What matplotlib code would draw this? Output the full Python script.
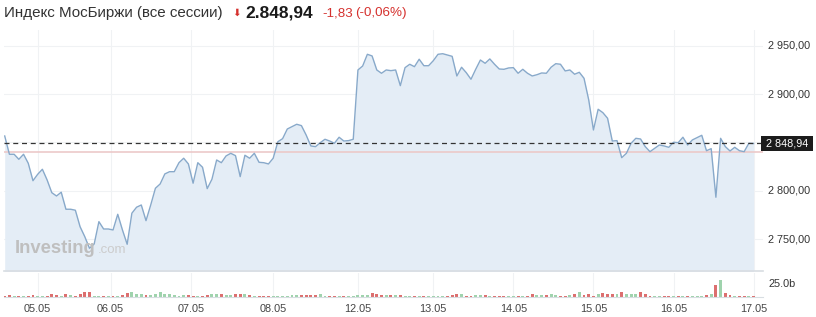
import matplotlib.pyplot as plt
import numpy as np

# hourly closes, index 0..159
prices = [
    2856.7, 2837.8, 2837.8, 2832.6, 2837.8, 2828.5, 2810.5, 2817.1, 2822.3, 2811.3,
    2798.1, 2794.7, 2798.6, 2781.0, 2781.0, 2780.0, 2763.0, 2752.7, 2740.7, 2745.1,
    2768.2, 2760.6, 2760.6, 2759.6, 2775.8, 2759.6, 2744.8, 2776.9, 2783.1, 2785.4,
    2769.2, 2785.4, 2802.7, 2807.1, 2817.5, 2819.8, 2819.8, 2829.1, 2833.7, 2827.8,
    2807.9, 2829.1, 2824.4, 2802.3, 2812.0, 2831.9, 2829.1, 2836.1, 2838.8, 2836.4,
    2814.7, 2836.8, 2833.7, 2838.8, 2829.5, 2829.1, 2827.8, 2833.7, 2850.8, 2853.9,
    2863.9, 2866.3, 2868.8, 2867.4, 2857.7, 2846.4, 2845.7, 2849.8, 2853.3, 2851.5,
    2849.2, 2855.4, 2851.5, 2851.9, 2853.3, 2924.9, 2929.0, 2941.1, 2939.4, 2924.9,
    2921.5, 2924.9, 2924.2, 2924.9, 2908.7, 2927.3, 2930.8, 2928.3, 2936.0, 2929.3,
    2929.3, 2934.5, 2941.1, 2941.7, 2940.4, 2939.0, 2918.7, 2927.7, 2922.1, 2915.3,
    2925.6, 2935.2, 2931.8, 2936.3, 2930.8, 2925.9, 2925.6, 2927.0, 2927.3, 2921.5,
    2925.6, 2921.5, 2918.7, 2920.0, 2921.8, 2921.5, 2927.7, 2931.4, 2930.8, 2923.9,
    2924.9, 2920.5, 2922.5, 2916.3, 2893.9, 2862.9, 2884.3, 2880.8, 2875.0, 2851.5,
    2851.9, 2834.3, 2838.8, 2849.2, 2854.3, 2853.6, 2845.7, 2840.5, 2844.0, 2847.4,
    2846.4, 2845.0, 2850.2, 2849.8, 2855.4, 2847.4, 2852.6, 2855.0, 2857.4, 2841.5,
    2843.6, 2793.4, 2854.3, 2845.7, 2841.2, 2845.0, 2841.5, 2840.5, 2849.2, 2848.94,
]

# volume, billions
volume = [
    2, 4, 2, 2, 2, 2, 4, 2, 2, 2,
    6, 4, 2, 6, 4, 2, 6, 10, 10, 2,
    2, 2, 2, 2, 2, 4, 8, 10, 6, 6,
    4, 4, 6, 10, 6, 6, 4, 2, 4, 4,
    2, 2, 2, 4, 6, 5, 5, 4, 4, 6,
    6, 6, 4, 2, 2, 2, 2, 2, 2, 2,
    2, 4, 3, 3, 3, 3, 4, 6, 2, 2,
    2, 2, 2, 2, 2, 4, 4, 4, 8, 6,
    4, 4, 3, 4, 4, 2, 2, 2, 2, 2,
    2, 2, 2, 2, 2, 4, 6, 6, 2, 2,
    4, 4, 4, 2, 2, 2, 2, 2, 2, 2,
    2, 2, 6, 3, 3, 4, 6, 4, 2, 2,
    4, 6, 10, 4, 6, 2, 6, 8, 6, 6,
    6, 10, 6, 6, 6, 10, 6, 2, 2, 2,
    2, 2, 2, 2, 2, 2, 2, 2, 2, 4,
    6, 23, 32, 8, 4, 2, 2, 2, 2, 2,
]

day_labels = ["05.05", "06.05", "07.05", "08.05", "12.05", "13.05", "14.05", "15.05", "16.05", "17.05"]
day_index = [7, 22.5, 39.5, 57, 75, 91, 108, 125, 142, 159]
price_ticks = [2750, 2800, 2900, 2950]
last_price = 2848.94
ref_price = 2840.5

W, H = 816, 317
fig = plt.figure(figsize=(W / 100, H / 100), dpi=100)
plt.rcParams['font.family'] = ['Liberation Sans', 'DejaVu Sans']

x = np.arange(len(prices))
xlim = (-0.15, 161.0)
ylo, yhi = 2717.2, 2966.2

# price panel
ax = fig.add_axes([4 / W, 1 - 271 / H, 759 / W, 241 / H])
ax.fill_between(x, prices, 2700, color='#e4edf6', lw=0)
ax.plot(x, prices, color='#88a9ca', lw=1.0)
ax.axhline(ref_price, color='#ecc9c9', lw=1.2, zorder=1)
ax.axhline(last_price, color='#333333', lw=0.9, ls=(0, (4, 3)), zorder=3)
ax.set_xlim(*xlim)
ax.set_ylim(ylo, yhi)
for v in [2750, 2800, 2850, 2900, 2950]:
    ax.axhline(v, color='#f0f2f4', lw=0.8, zorder=0)
for d in day_index:
    ax.axvline(d, color='#f0f2f4', lw=0.8, zorder=0)
ax.set_xticks([])
ax.set_yticks([])
for s in ['top', 'left', 'right']:
    ax.spines[s].set_visible(False)
ax.spines['bottom'].set_color('#d8dde2')
ax.spines['bottom'].set_linewidth(1.2)

for v in price_ticks:
    ax.text(1.007, (v - ylo) / (yhi - ylo), f"2 {v - 2000:03d},00",
            transform=ax.transAxes, va='center', ha='left', fontsize=7.8, color='#333333')
ax.text(1.0, (last_price - ylo) / (yhi - ylo), " 2 848,94 ",
        transform=ax.transAxes, va='center', ha='left', fontsize=7.8, color='white',
        bbox=dict(boxstyle='square,pad=0.2', fc='#1c1c1c', ec='none'))

ax.text(0.014, 0.075, "Investing", transform=ax.transAxes, fontsize=13.3, fontweight='bold',
        color='#bfbfbf', ha='left', va='baseline')
ax.text(0.1235, 0.075, ".com", transform=ax.transAxes, fontsize=9.5, color='#cccccc',
        ha='left', va='baseline')

# volume panel
axv = fig.add_axes([4 / W, 1 - 297 / H, 759 / W, 24 / H])
colors = ['#9fd3ad' if i > 0 and prices[i] >= prices[i - 1] else '#dc6f6f' for i in range(len(prices))]
axv.bar(x, volume, width=0.62, color=colors)
axv.set_xlim(*xlim)
axv.set_ylim(0, 46)
for d in day_index:
    axv.axvline(d, color='#f0f2f4', lw=0.8, zorder=0)
axv.set_yticks([])
axv.set_xticks(day_index)
axv.set_xticklabels(day_labels, fontsize=7.8, color='#444444')
axv.tick_params(axis='x', length=0, pad=5)
for s in ['top', 'left', 'right']:
    axv.spines[s].set_visible(False)
axv.spines['bottom'].set_color('#d8dde2')
axv.text(1.007, 25 / 46, "25.0b", transform=axv.transAxes, va='center', ha='left',
         fontsize=7.8, color='#333333')

# header
fig.text(4 / W, 1 - 13 / H, "Индекс МосБиржи (все сессии)", fontsize=10.9, color='#333333',
         va='center', ha='left')
fig.text(232 / W, 1 - 13 / H, "⬇", fontsize=7.5, color='#d5312e', va='center', ha='left',
         family='DejaVu Sans')
fig.text(245 / W, 1 - 13.5 / H, "2.848,94", fontsize=12.5, fontweight='bold', color='#1a1a1a',
         va='center', ha='left')
fig.text(322 / W, 1 - 13 / H, "-1,83", fontsize=9.6, color='#d5312e', va='center', ha='left')
fig.text(355 / W, 1 - 13 / H, "(-0,06%)", fontsize=9.6, color='#d5312e', va='center', ha='left')

fig.savefig("out.png", dpi=100)
